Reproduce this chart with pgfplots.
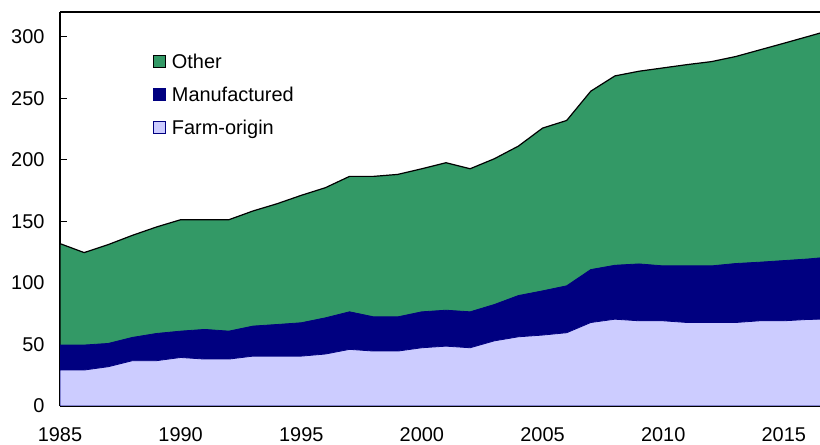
\documentclass[border=0pt]{standalone}
\usepackage{pgfplots}
\pgfplotsset{compat=1.18}
\usepackage{pgfplotstable}
\usepackage{fontspec}
\setmainfont{Liberation Sans}
\definecolor{cOther}{RGB}{51,153,102}
\definecolor{cManu}{RGB}{0,0,128}
\definecolor{cFarm}{RGB}{204,204,255}
\pgfplotstableread{
year farm manu total
1985 29.2 49.5 131.9
1986 29.2 49.5 124.6
1987 31.9 50.8 131.1
1988 36.8 55.7 138.6
1989 36.8 58.9 145.4
1990 39.4 60.8 151.3
1991 38.1 62.2 151.3
1992 38.1 60.8 151.3
1993 40.5 64.9 158.4
1994 40.5 66.2 164.3
1995 40.5 67.6 171.1
1996 42.2 71.6 177.3
1997 46.0 76.5 186.5
1998 44.6 72.4 186.5
1999 44.6 72.4 188.1
2000 47.3 76.5 192.7
2001 48.6 77.8 197.6
2002 47.3 76.5 192.7
2003 52.9 82.4 200.8
2004 56.2 89.7 211.1
2005 57.6 93.5 225.7
2006 59.5 97.6 231.9
2007 67.8 110.8 255.7
2008 70.5 114.3 268.1
2009 69.2 115.4 271.9
2010 69.2 113.8 274.6
2011 67.8 113.8 277.3
2012 67.8 113.8 279.7
2013 67.8 115.7 283.8
2014 69.2 116.8 289.2
2015 69.2 118.1 294.6
2016 70.3 119.4 300.1
2017 70.7 121.2 305.7
}\datatable
\begin{document}
\begin{tikzpicture}
\useasboundingbox (-60bp,-39bp) rectangle (760bp,406bp);
\begin{axis}[
  at={(0,0)}, anchor=south west,
  scale only axis, width=760bp, height=394bp,
  xmin=1985, xmax=2016.5, ymin=0, ymax=320,
  axis x line*=bottom, axis y line*=left,
  axis line style={line width=1.3bp, black},
  xtick={1985,1990,...,2015},
  ytick={0,50,...,300},
  tick align=inside, major tick length=7bp,
  tick style={line width=1.2bp, black},
  /pgf/number format/set thousands separator={},
  /pgf/number format/assume math mode=true,
  tick label style={font=\fontsize{20}{24}\selectfont},
  xticklabel style={yshift=-18bp},
  yticklabel style={xshift=-12bp},
  clip=true,
  legend cell align=left,
  legend style={draw=none, fill=none, at={(rel axis cs:0.122,0.897)}, anchor=north west,
    font=\fontsize{20}{24}\selectfont, row sep=15bp, column sep=5bp, inner sep=0pt,
    nodes={inner sep=1bp}},
  legend image code/.code={\draw[#1, line width=1bp] (0bp,-6bp) rectangle (12bp,6bp);},
]
\addplot[fill=cOther, draw=black, line width=1.2bp] table[x=year,y=total]{\datatable} \closedcycle;
\addlegendentry{Other}
\addplot[fill=cManu, draw=cManu, line width=0.8bp] table[x=year,y=manu]{\datatable} \closedcycle;
\addlegendentry{Manufactured}
\addplot[fill=cFarm, draw=cManu, line width=0.8bp] table[x=year,y=farm]{\datatable} \closedcycle;
\addlegendentry{Farm-origin}
\draw[line width=1.3bp] (rel axis cs:0,1) -- (rel axis cs:1,1);
\end{axis}
\end{tikzpicture}
\end{document}
